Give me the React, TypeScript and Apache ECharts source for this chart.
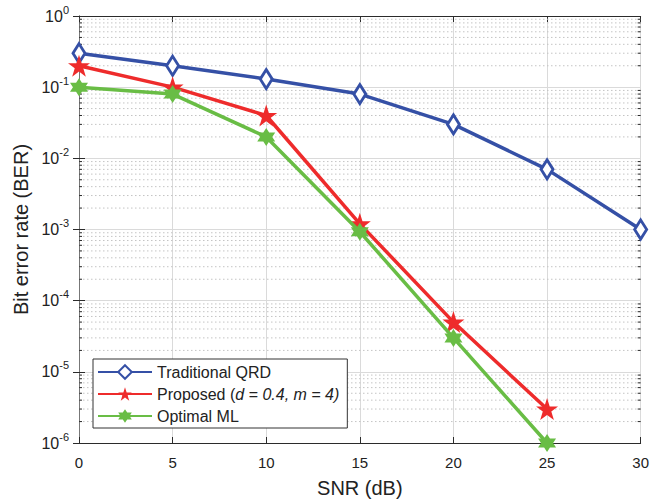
import React, { useEffect, useRef } from "react";
import * as echarts from "echarts";

const snr = [0, 5, 10, 15, 20, 25, 30];
const qrd = [0.3, 0.2, 0.13, 0.08, 0.03, 0.007, 0.001];
const proposed = [0.2, 0.1, 0.04, 0.0012, 5e-5, 3e-6];
const optimal = [0.1, 0.08, 0.02, 0.00093, 3e-5, 1e-6];
const decades = [-6, -5, -4, -3, -2, -1];
const minorMultipliers = [2, 3, 4, 5, 6, 7, 8, 9];

const minorValues: number[] = [];
decades.forEach((d) => minorMultipliers.forEach((m) => minorValues.push(m * Math.pow(10, d))));

const BLUE = "#3550a6";
const RED = "#ee2b2b";
const GREEN = "#69bd45";
const AXIS = "#2b2b2b";
const TEXT = "#222222";
const FONT = "Liberation Sans";

const STAR5 = "path://M50,0 L61.8,36 L99,36 L69,58 L80.5,94 L50,72 L19.5,94 L31,58 L1,36 L38.2,36 Z";
const STAR6 = "path://M50,0 L64,25 L93,25 L79,50 L93,75 L64,75 L50,100 L36,75 L7,75 L21,50 L7,25 L36,25 Z";

export default function App() {
  const ref = useRef<HTMLDivElement>(null);
  useEffect(() => {
    if (!ref.current) return;
    const chart = echarts.init(ref.current, undefined, { renderer: "svg" });
    const pair = (ys: number[]) => ys.map((v, i) => [snr[i], v]);
    const yLabel = (v: number) => {
      const e = Math.round(Math.log10(v));
      return `{b|10}{s|${e}}`;
    };
    chart.setOption({
      animation: false,
      backgroundColor: "#ffffff",
      grid: { left: 79, right: 7, top: 16, bottom: 58, containLabel: false },
      legend: {
        data: ["Traditional QRD", "Proposed (d = 0.4, m = 4)", "Optimal ML"],
        orient: "vertical",
        left: 93,
        top: 359,
        itemWidth: 54,
        itemHeight: 17,
        itemGap: 6,
        padding: [5, 8, 4, 4],
        backgroundColor: "#ffffff",
        borderColor: "#333333",
        borderWidth: 1,
        borderRadius: 0,
        formatter: (name: string) =>
          name.startsWith("Proposed") ? "{n|Proposed (}{i|d = 0.4, m = 4)}" : `{n|${name}}`,
        textStyle: {
          fontFamily: FONT,
          fontSize: 16,
          color: TEXT,
          rich: {
            n: { fontFamily: FONT, fontSize: 16, color: TEXT },
            i: { fontFamily: FONT, fontSize: 16, color: TEXT, fontStyle: "italic" },
          },
        },
      },
      xAxis: [
        {
          type: "value",
          min: 0,
          max: 30,
          interval: 5,
          name: "SNR (dB)",
          nameLocation: "middle",
          nameGap: 35,
          nameTextStyle: { fontFamily: FONT, fontSize: 20, color: TEXT },
          axisLine: { show: true, lineStyle: { color: AXIS, width: 1 } },
          axisTick: { show: true, inside: true, length: 6, lineStyle: { color: AXIS } },
          axisLabel: { fontFamily: FONT, fontSize: 15, color: TEXT, margin: 12 },
          splitLine: { show: true, lineStyle: { color: "#dadada", width: 1 } },
        },
        {
          type: "value",
          position: "top",
          min: 0,
          max: 30,
          interval: 5,
          axisLine: { show: true, lineStyle: { color: AXIS, width: 1 } },
          axisTick: { show: true, inside: true, length: 6, lineStyle: { color: AXIS } },
          axisLabel: { show: false },
          splitLine: { show: false },
        },
      ],
      yAxis: [
        {
          type: "log",
          logBase: 10,
          min: 1e-6,
          max: 1,
          splitNumber: 6,
          name: "Bit error rate (BER)",
          nameLocation: "middle",
          nameGap: 47,
          nameTextStyle: { fontFamily: FONT, fontSize: 20, color: TEXT },
          axisLine: { show: true, lineStyle: { color: AXIS, width: 1 } },
          axisTick: { show: true, inside: true, length: 6, lineStyle: { color: AXIS } },
          axisLabel: {
            fontFamily: FONT,
            margin: 10,
            formatter: yLabel,
            rich: {
              b: { fontFamily: FONT, fontSize: 16, color: TEXT },
              s: { fontFamily: FONT, fontSize: 11, color: TEXT, padding: [0, 0, 13, 0] },
            },
          },
          splitLine: { show: true, lineStyle: { color: "#dadada", width: 1 } },
        },
        {
          type: "log",
          logBase: 10,
          min: 1e-6,
          max: 1,
          splitNumber: 6,
          position: "right",
          axisLine: { show: true, lineStyle: { color: "#777777", width: 1 } },
          axisTick: { show: true, inside: true, length: 6, lineStyle: { color: AXIS } },
          axisLabel: { show: false },
          splitLine: { show: false },
        },
      ],
      series: [
        {
          type: "custom",
          name: "minor",
          silent: true,
          z: 1,
          xAxisIndex: 0,
          yAxisIndex: 0,
          data: minorValues.map((v) => [0, v]),
          renderItem: (params: any, api: any) => {
            const cs = params.coordSys;
            const y = api.coord([0, api.value(1)])[1];
            const left = cs.x;
            const right = cs.x + cs.width;
            return {
              type: "group",
              children: [
                {
                  type: "line",
                  shape: { x1: left, y1: y, x2: right, y2: y },
                  style: { stroke: "#c4c4c4", lineWidth: 1, lineDash: [1.5, 2.5] },
                },
                {
                  type: "line",
                  shape: { x1: left, y1: y, x2: left + 3, y2: y },
                  style: { stroke: AXIS, lineWidth: 1 },
                },
                {
                  type: "line",
                  shape: { x1: right - 3, y1: y, x2: right, y2: y },
                  style: { stroke: AXIS, lineWidth: 1 },
                },
              ],
            };
          },
        },
        {
          type: "line",
          name: "Traditional QRD",
          data: pair(qrd),
          z: 3,
          lineStyle: { color: BLUE, width: 3.5 },
          itemStyle: { color: "#ffffff", borderColor: BLUE, borderWidth: 3 },
          symbol: "diamond",
          symbolSize: [12, 19],
          showAllSymbol: true,
          clip: false,
        },
        {
          type: "line",
          name: "Proposed (d = 0.4, m = 4)",
          data: pair(proposed),
          z: 4,
          lineStyle: { color: RED, width: 3.5 },
          itemStyle: { color: RED, borderColor: RED, borderWidth: 0 },
          symbol: STAR5,
          symbolSize: 22,
          showAllSymbol: true,
          clip: false,
        },
        {
          type: "line",
          name: "Optimal ML",
          data: pair(optimal),
          z: 5,
          lineStyle: { color: GREEN, width: 3.5 },
          itemStyle: { color: GREEN, borderColor: GREEN, borderWidth: 0 },
          symbol: STAR6,
          symbolSize: 18,
          showAllSymbol: true,
          clip: false,
        },
      ],
    });
    return () => chart.dispose();
  }, []);
  return <div ref={ref} style={{ position: "fixed", left: 0, top: 0, width: 652, height: 503 }} />;
}
